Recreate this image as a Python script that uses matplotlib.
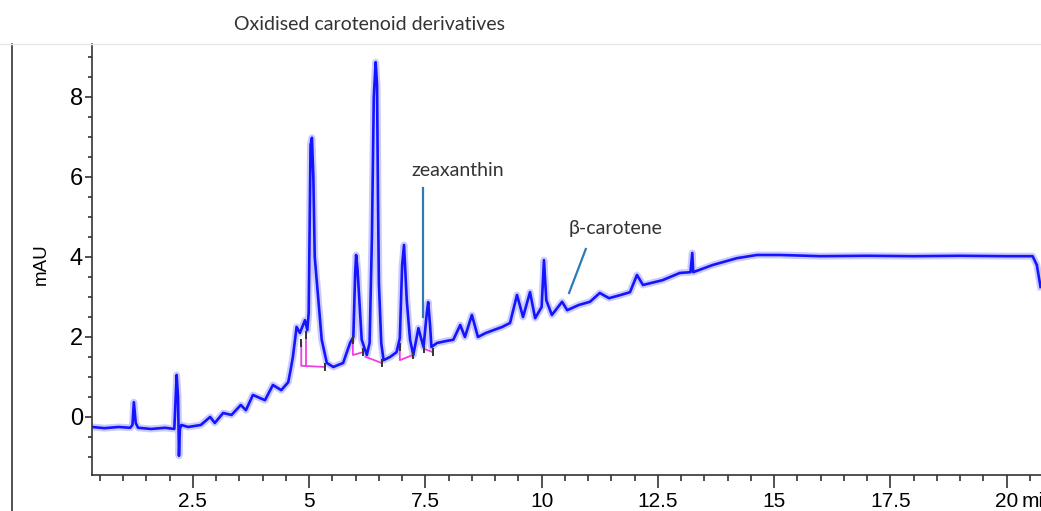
import matplotlib
matplotlib.use("Agg")
import matplotlib.pyplot as plt
from matplotlib.lines import Line2D
from matplotlib.ticker import MultipleLocator

# chromatogram trace (time in min, signal in mAU)
time_min = [
    0.33, 0.6, 0.9, 1.15, 1.2, 1.23, 1.27, 1.32, 1.6, 1.9, 2.1, 2.15, 2.18, 2.2, 2.22,
    2.25, 2.4, 2.67, 2.87, 2.97, 3.15, 3.33, 3.53, 3.64, 3.79, 4.05, 4.22, 4.4, 4.55,
    4.6, 4.65, 4.73, 4.8,
    4.91, 4.96, 4.99, 5.03, 5.06, 5.09, 5.12, 5.2, 5.27, 5.38, 5.52, 5.73, 5.88, 5.95,
    5.99, 6.01, 6.04, 6.08, 6.13, 6.24, 6.3, 6.35, 6.39, 6.43, 6.46, 6.48, 6.5, 6.55,
    6.6, 6.74, 6.88, 6.95, 7.0, 7.04, 7.07, 7.1, 7.17, 7.24, 7.35, 7.4, 7.46, 7.53,
    7.56, 7.6, 7.63, 7.75, 7.95, 8.1, 8.25, 8.35, 8.5, 8.63, 8.8, 8.96, 9.15, 9.32,
    9.47, 9.6, 9.75, 9.86, 10.0, 10.05, 10.1, 10.22, 10.44, 10.55, 10.8, 11.04, 11.25,
    11.45, 11.7, 11.9, 12.05, 12.18, 12.6, 12.97, 13.2, 13.24, 13.26, 13.68, 14.2,
    14.63, 15.12, 16.0, 17.0, 18.0, 19.0, 20.0, 20.56, 20.65, 20.73,
]
signal_mau = [
    -0.25, -0.28, -0.25, -0.27, -0.2, 0.37, -0.15, -0.27, -0.3, -0.27, -0.3, 1.05, 0.5, -0.97, -0.3,
    -0.2, -0.25, -0.2, 0.0, -0.15, 0.1, 0.05, 0.3, 0.17, 0.55, 0.42, 0.8, 0.67, 0.87,
    1.17, 1.5, 2.25, 2.1,
    2.42, 2.17, 2.6, 6.8, 6.98, 6.0, 4.0, 2.9, 1.93, 1.35, 1.25, 1.35, 1.85, 2.0,
    3.6, 4.05, 3.7, 2.9, 1.93, 1.55, 1.85, 4.5, 8.0, 8.87, 8.3, 5.5, 3.35, 1.85,
    1.42, 1.5, 1.62, 1.97, 3.8, 4.3, 3.6, 2.9, 1.93, 1.55, 2.22, 2.0, 1.75, 2.6,
    2.87, 2.3, 1.75, 1.85, 1.9, 1.93, 2.3, 2.0, 2.55, 2.0, 2.1, 2.17, 2.25, 2.35,
    3.05, 2.5, 3.12, 2.47, 2.75, 3.92, 2.92, 2.55, 2.88, 2.67, 2.8, 2.88, 3.1,
    2.97, 3.05, 3.12, 3.55, 3.3, 3.42, 3.6, 3.62, 4.1, 3.62, 3.8, 3.97,
    4.05, 4.05, 4.02, 4.03, 4.02, 4.03, 4.02, 4.02, 3.8, 3.25,
]

# integration baselines (pink) as separate polylines
baseline_x = [[4.83, 4.83, 5.34], [4.93, 4.93], [5.94, 5.94, 6.16], [6.22, 6.56],
              [6.95, 6.95, 7.23], [7.48, 7.66]]
baseline_y = [[1.85, 1.28, 1.25], [2.05, 1.28], [1.93, 1.55, 1.62], [1.5, 1.35],
              [1.75, 1.42, 1.55], [1.7, 1.62]]

# small black integration marks
mark_x = [4.83, 4.93, 5.34, 5.94, 6.16, 6.56, 6.95, 7.23, 7.48, 7.66]
mark_y = [1.85, 2.05, 1.25, 1.93, 1.62, 1.35, 1.75, 1.55, 1.7, 1.62]

x_ticks = [2.5, 5, 7.5, 10, 12.5, 15, 17.5, 20]
x_labels = ["2.5", "5", "7.5", "10", "12.5", "15", "17.5", "20"]
y_ticks = [0, 2, 4, 6, 8]

labels = ["zeaxanthin", "β-carotene"]
pointer_x = [[7.45, 7.45], [10.95, 10.59]]
pointer_y = [[5.72, 2.5], [4.2, 3.1]]
label_pos = [(8.2, 6.17), (11.58, 4.72)]

fig = plt.figure(figsize=(10.41, 5.11), dpi=100)
ax = fig.add_axes([0.0884, 0.0705, 0.9116, 0.8434])

# soft halo first so the trace reads as the fuzzy detector band of the original
ax.plot(time_min, signal_mau, color="#6b6bff", lw=5.0, alpha=0.35, solid_joinstyle="round")
ax.plot(time_min, signal_mau, color="#1414ff", lw=1.9, solid_joinstyle="round")

for bx, by in zip(baseline_x, baseline_y):
    ax.plot(bx, by, color="#f23ee0", lw=1.3)
for mx, my in zip(mark_x, mark_y):
    ax.plot([mx, mx], [my - 0.08, my + 0.08], color="#333333", lw=1.4)

for name, px, py, (tx, ty) in zip(labels, pointer_x, pointer_y, label_pos):
    ax.plot(px, py, color="#2b7bb9", lw=1.6)
    ax.text(tx, ty, name, ha="center", va="center", fontsize=14, color="#333333",
            family=["Lato", "DejaVu Sans"])

ax.set_xlim(0.33, 20.74)
ax.set_ylim(-1.45, 9.325)
ax.spines["top"].set_visible(False)
ax.spines["right"].set_visible(False)
for s in ("left", "bottom"):
    ax.spines[s].set_color("#333333")
    ax.spines[s].set_linewidth(1.2)

ax.set_xticks(x_ticks)
ax.set_xticklabels(x_labels, family="Liberation Sans", fontsize=15)
ax.xaxis.set_minor_locator(MultipleLocator(0.5))
ax.set_yticks(y_ticks)
ax.set_yticklabels([str(v) for v in y_ticks], family="Liberation Sans", fontsize=17)
ax.yaxis.set_minor_locator(MultipleLocator(0.5))
ax.tick_params(axis="x", which="major", length=9.5, width=1.2, color="#333333", pad=3)
ax.tick_params(axis="x", which="minor", length=4, width=1.2, color="#333333")
ax.tick_params(axis="y", which="major", length=5, width=1.2, color="#333333", pad=1.5)
ax.tick_params(axis="y", which="minor", length=3, width=1.2, color="#333333")

# unit after the last tick label, running off the right edge as in the original
ax.annotate("min", xy=(20.33, 0), xycoords=("data", "axes fraction"),
            xytext=(0, -12.5), textcoords="offset points", ha="left", va="top",
            fontsize=15, family="Liberation Sans", annotation_clip=False)

ax.set_ylabel("mAU", fontsize=13.5, family="Liberation Sans")
ax.yaxis.set_label_coords(-0.045, 0.49)

fig.text(369 / 1041, 1 - 25 / 511, "Oxidised carotenoid derivatives", ha="center",
         va="center", fontsize=14, color="#333333", family=["Lato", "DejaVu Sans"])

# frame lines around the panel
fig.add_artist(Line2D([12 / 1041, 12 / 1041], [0, 1 - 44 / 511], color="#333333", lw=1.2))
fig.add_artist(Line2D([0, 1], [1 - 44 / 511, 1 - 44 / 511], color="#e6e6e6", lw=1.0))

fig.savefig("out.png", dpi=100)
